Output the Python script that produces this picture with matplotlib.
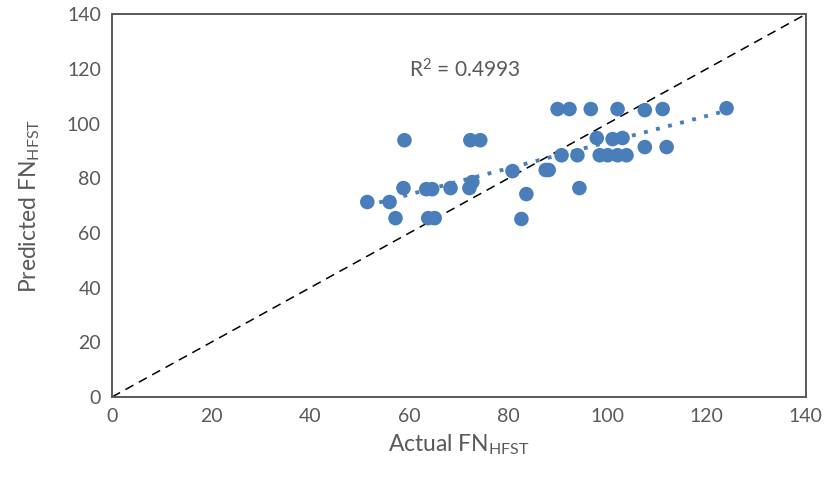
import numpy as np
import matplotlib.pyplot as plt

plt.rcParams['font.family'] = ['Lato', 'DejaVu Sans']
plt.rcParams['mathtext.fontset'] = 'custom'
plt.rcParams['mathtext.rm'] = 'Lato'
plt.rcParams['mathtext.it'] = 'Lato'

# Actual vs predicted FN_HFST
actual = [51.5, 56.0, 57.2, 58.8, 59.0, 63.4, 64.6, 63.8, 65.1, 68.3,
          72.1, 72.7, 72.3, 74.3, 80.8, 82.6, 83.6, 87.5, 88.1, 89.9,
          92.3, 96.6, 102.0, 107.5, 111.1, 124.0, 97.8, 101.0, 103.0, 107.5,
          111.9, 90.7, 93.9, 98.4, 100.0, 102.0, 103.8, 94.3]
predicted = [71.3, 71.3, 65.4, 76.4, 93.9, 76.0, 76.0, 65.4, 65.4, 76.4,
             76.4, 78.6, 93.9, 93.9, 82.6, 65.1, 74.2, 83.0, 83.0, 105.3,
             105.3, 105.3, 105.3, 104.9, 105.3, 105.6, 94.7, 94.3, 94.7, 91.4,
             91.4, 88.4, 88.4, 88.4, 88.4, 88.4, 88.4, 76.4]
ticks = [0, 20, 40, 60, 80, 100, 120, 140]

gray = '#595959'
blue = '#4A7EBB'

fig = plt.figure(figsize=(8.36, 4.88), dpi=100)
ax = fig.add_axes([0.134, 0.1865, 0.830, 0.7845])

# 1:1 line
ax.plot([0, 140], [0, 140], color='black', linestyle=(0, (6, 4)), linewidth=1.1, zorder=1)

# data points
ax.scatter(actual, predicted, s=110, color=blue, edgecolors='none', zorder=3)

# linear trendline
x = np.array(actual)
y = np.array(predicted)
k, b = np.polyfit(x, y, 1)
xs = np.array([x.min(), x.max()])
ax.plot(xs, k * xs + b, color=blue, linestyle=(0, (1, 2.2)), linewidth=2.8, zorder=2)

ax.text(60, 119.5, 'R$^2$ = 0.4993', fontsize=15, color=gray, va='center', ha='left')

ax.set_xlim(0, 140)
ax.set_ylim(0, 140)
ax.set_xticks(ticks)
ax.set_yticks(ticks)
ax.tick_params(length=0, labelsize=14, labelcolor=gray, pad=8)
for s in ax.spines.values():
    s.set_color(gray)
    s.set_linewidth(1.4)

ax.set_xlabel(r'Actual FN$_{\mathrm{HFST}}$', fontsize=16.5, color=gray, labelpad=5)
ax.set_ylabel(r'Predicted FN$_{\mathrm{HFST}}$', fontsize=16.5, color=gray, labelpad=18)

fig.savefig('out.png', dpi=100)
